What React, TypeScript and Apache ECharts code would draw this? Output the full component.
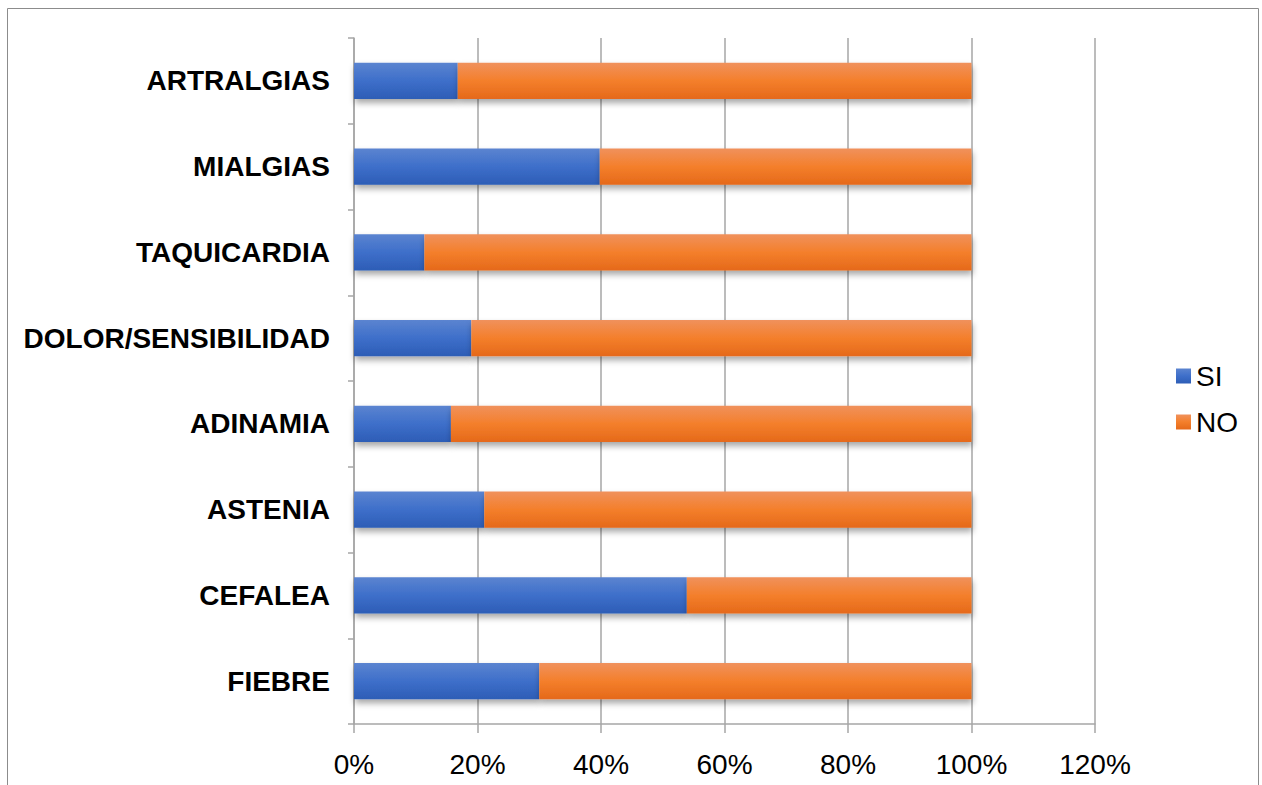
import React, { useEffect, useRef } from "react";
import * as echarts from "echarts";

const categories = ["FIEBRE", "CEFALEA", "ASTENIA", "ADINAMIA", "DOLOR/SENSIBILIDAD", "TAQUICARDIA", "MIALGIAS", "ARTRALGIAS"];
const siValues = [30.0, 53.9, 21.1, 15.7, 19.0, 11.4, 39.8, 16.8];
const noValues = [70.0, 46.1, 78.9, 84.3, 81.0, 88.6, 60.2, 83.2];
const seriesNames = ["SI", "NO"];

const blueGrad = new echarts.graphic.LinearGradient(0, 0, 0, 1, [
  { offset: 0, color: "#5b84d0" },
  { offset: 0.5, color: "#3e6fca" },
  { offset: 1, color: "#2d5db6" },
]);
const orangeGrad = new echarts.graphic.LinearGradient(0, 0, 0, 1, [
  { offset: 0, color: "#f0915c" },
  { offset: 0.5, color: "#f47f2b" },
  { offset: 1, color: "#e5691a" },
]);

const FONT = "Liberation Sans, Arial, sans-serif";

export default function App() {
  const ref = useRef<HTMLDivElement>(null);
  useEffect(() => {
    if (!ref.current) return;
    const chart = echarts.init(ref.current, null, { renderer: "svg" });
    const shadow = {
      shadowBlur: 6,
      shadowOffsetY: 4,
      shadowOffsetX: 1,
      shadowColor: "rgba(0,0,0,0.35)",
    };
    chart.setOption({
      animation: false,
      backgroundColor: "#ffffff",
      textStyle: { fontFamily: FONT },
      graphic: [
        {
          type: "rect",
          shape: { x: 7.5, y: 8.5, width: 1251, height: 800 },
          style: { fill: "none", stroke: "#8c8c8c", lineWidth: 1 },
          silent: true,
        },
      ],
      grid: { left: 354, right: 167, top: 38, bottom: 61, containLabel: false },
      legend: {
        orient: "vertical",
        left: 1171,
        top: 357,
        itemWidth: 15,
        itemHeight: 15,
        itemGap: 18,
        itemStyle: { borderWidth: 0 },
        icon: "rect",
        data: seriesNames,
        textStyle: { fontSize: 28, color: "#000", fontFamily: FONT },
      },
      xAxis: {
        type: "value",
        min: 0,
        max: 120,
        interval: 20,
        axisLine: { show: true, lineStyle: { color: "#a6a6a6", width: 1.5 } },
        axisTick: { show: true, length: 9, lineStyle: { color: "#a6a6a6", width: 1.5 } },
        splitLine: { show: true, lineStyle: { color: "#a6a6a6", width: 1.5 } },
        axisLabel: {
          formatter: "{value}%",
          fontSize: 28,
          color: "#000",
          margin: 26,
          fontFamily: FONT,
        },
      },
      yAxis: {
        type: "category",
        data: categories,
        axisLine: { show: true, lineStyle: { color: "#a6a6a6", width: 1.5 } },
        axisTick: { show: true, length: 6, lineStyle: { color: "#a6a6a6", width: 1.5 } },
        axisLabel: {
          fontSize: 28,
          fontWeight: "bold",
          color: "#000",
          margin: 24,
          fontFamily: FONT,
        },
      },
      series: [
        {
          name: seriesNames[0],
          type: "bar",
          stack: "total",
          data: siValues,
          barWidth: "42%",
          itemStyle: { color: blueGrad, ...shadow },
        },
        {
          name: seriesNames[1],
          type: "bar",
          stack: "total",
          data: noValues,
          barWidth: "42%",
          itemStyle: { color: orangeGrad, ...shadow },
        },
      ],
    });
    return () => chart.dispose();
  }, []);
  return (
    <div
      ref={ref}
      style={{ position: "fixed", left: 0, top: 0, width: 1262, height: 785 }}
    />
  );
}
